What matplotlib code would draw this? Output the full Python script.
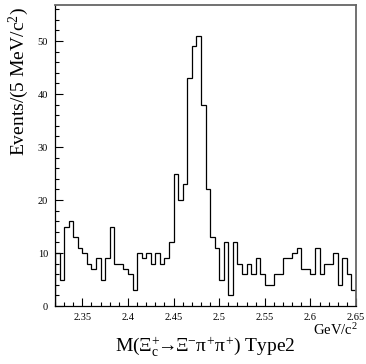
import matplotlib
matplotlib.use('Agg')
import matplotlib.pyplot as plt
import numpy as np
from matplotlib.ticker import MultipleLocator, FuncFormatter

# ---- data (events per 5 MeV/c^2 bin, from 2.32 to 2.65 GeV/c^2) ----
bin_low = 2.32
bin_width = 0.005
counts = [10, 5, 15, 16, 13, 11, 10, 8, 7, 9,
          5, 9, 15, 8, 8, 7, 6, 3, 10, 9,
          10, 8, 10, 8, 9, 12, 25, 20, 23, 43,
          49, 51, 38, 22, 13, 11, 5, 12, 2, 12,
          8, 6, 8, 6, 9, 6, 4, 4, 6, 6,
          9, 9, 10, 11, 7, 7, 6, 11, 6, 8,
          8, 10, 4, 9, 6, 3]
x_ticks = [2.35, 2.40, 2.45, 2.50, 2.55, 2.60, 2.65]
y_ticks = [0, 10, 20, 30, 40, 50]

edges = bin_low + bin_width * np.arange(len(counts) + 1)

plt.rcParams['font.family'] = ['Liberation Serif', 'DejaVu Serif']
plt.rcParams['mathtext.fontset'] = 'custom'
plt.rcParams['mathtext.rm'] = 'Liberation Serif'
plt.rcParams['mathtext.it'] = 'Liberation Serif'
plt.rcParams['mathtext.bf'] = 'Liberation Serif:bold'

W, H = 366, 364
fig = plt.figure(figsize=(W / 100, H / 100), dpi=100)
ax = fig.add_axes([55 / W, 58 / H, 301 / W, 301 / H])

ax.stairs(counts, edges, color='black', lw=0.9)
ax.set_xlim(2.32, 2.65)
ax.set_ylim(0, 56.8)

ax.set_xticks(x_ticks)
ax.set_yticks(y_ticks)
ax.xaxis.set_minor_locator(MultipleLocator(0.01))
ax.yaxis.set_minor_locator(MultipleLocator(2))
ax.xaxis.set_major_formatter(FuncFormatter(lambda v, p: '%g' % round(v, 3)))
ax.yaxis.set_major_formatter(FuncFormatter(lambda v, p: '%d' % v))
ax.tick_params(which='both', direction='in', top=False, right=False,
               labelsize=7.5, width=0.8, color='black')
ax.tick_params(which='major', length=5.5, pad=5)
ax.tick_params(which='minor', length=3)

for s in ['left', 'bottom']:
    ax.spines[s].set_color('black')
    ax.spines[s].set_linewidth(0.9)
for s in ['top', 'right']:
    ax.spines[s].set_color('0.4')
    ax.spines[s].set_linewidth(1.3)

# y-axis title aligned to the top end of the axis (ROOT style)
fig.text(19 / W, 1 - 7 / H, r'Events/(5 MeV/c$^{2}$)', fontsize=14,
         rotation=90, ha='center', va='top')

fig.text(205 / W, 1 - 347 / H,
         r'M($\Xi_{c}^{+}\!\!\rightarrow\!\!\Xi^{-}\pi^{+}\pi^{+}$) Type2',
         fontsize=14, ha='center', va='center')
fig.text(358 / W, 1 - 330 / H, r'GeV/c$^{2}$', fontsize=10.5,
         ha='right', va='center')

fig.savefig('out.png', dpi=100)
